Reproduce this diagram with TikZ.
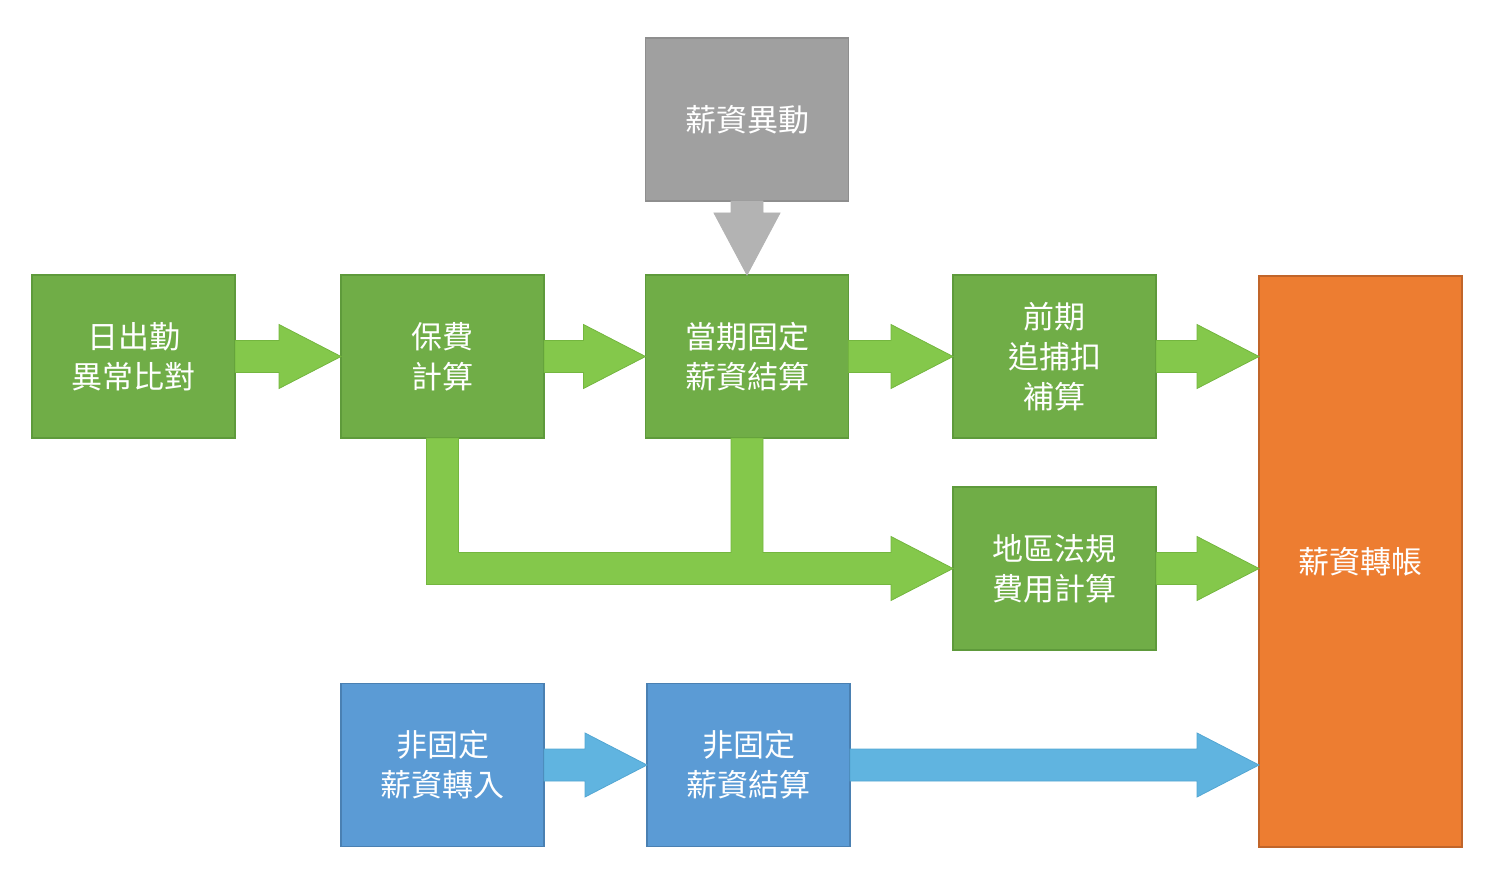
\documentclass[tikz,border=0pt]{standalone}
\usepackage{fontspec}
\setmainfont{Noto Sans CJK TC}
\usetikzlibrary{calc}
\definecolor{boxgreen}{HTML}{70AD47}
\definecolor{linegreen}{HTML}{5E9A3B}
\definecolor{arrgreen}{HTML}{84C84B}
\definecolor{arrgreenline}{HTML}{74B63F}
\definecolor{boxgray}{HTML}{A0A0A0}
\definecolor{linegray}{HTML}{8E8E8E}
\definecolor{arrgray}{HTML}{B3B3B3}
\definecolor{boxorange}{HTML}{ED7D31}
\definecolor{lineorange}{HTML}{C1652A}
\definecolor{boxblue}{HTML}{5B9BD5}
\definecolor{lineblue}{HTML}{4A80B2}
\definecolor{arrblue}{HTML}{60B4E0}
\definecolor{arrblueline}{HTML}{53A6D2}

% block arrow, left to right
\newcommand{\harrow}[3]{%
	\filldraw[#3] let \p1=(#1), \p2=(#2) in
		(\x1,\y1+8pt) -- (\x2-31pt,\y1+8pt) -- (\x2-31pt,\y1+16pt) -- (\x2,\y1)
		-- (\x2-31pt,\y1-16pt) -- (\x2-31pt,\y1-8pt) -- (\x1,\y1-8pt) -- cycle;}
% block arrow, top to bottom
\newcommand{\varrow}[3]{%
	\filldraw[#3] let \p1=(#1), \p2=(#2) in
		(\x1-8pt,\y1) -- (\x1-8pt,\y2+31pt) -- (\x1-16.5pt,\y2+31pt) -- (\x1,\y2)
		-- (\x1+16.5pt,\y2+31pt) -- (\x1+8pt,\y2+31pt) -- (\x1+8pt,\y1) -- cycle;}

\begin{document}
\begin{tikzpicture}[x=0.5pt,y=-0.5pt,line width=0.6pt,
	box/.style={rectangle,draw,text=white,align=center,outer sep=0pt,
		minimum width=101.5pt,minimum height=81.5pt,
		font=\fontsize{15.5pt}{20pt}\selectfont},
	green box/.style={box,fill=boxgreen,draw=linegreen},
	gray box/.style={box,fill=boxgray,draw=linegray},
	blue box/.style={box,fill=boxblue,draw=lineblue},
	orange box/.style={box,fill=boxorange,draw=lineorange,minimum height=285.5pt},
	garrow/.style={fill=arrgreen,draw=arrgreenline,line width=0.4pt},
	barrow/.style={fill=arrblue,draw=arrblueline,line width=0.4pt},
	grarrow/.style={fill=arrgray,draw=arrgray,line width=0.4pt}]
	\useasboundingbox (0,0) rectangle (1496,888);

	\node[green box] at (133.5,356.5) (att) {日出勤\\異常比對};
	\node[green box] at (442.5,356.5) (ins) {保費\\計算};
	\node[green box] at (747,356.5) (cur) {當期固定\\薪資結算};
	\node[gray box] at (747,119.5) (chg) {薪資異動};
	\node[green box] at (1054.5,356.5) (pre) {前期\\追捕扣\\補算};
	\node[green box] at (1054.5,568.5) (reg) {地區法規\\費用計算};
	\node[blue box] at (442.5,765) (nfin) {非固定\\薪資轉入};
	\node[blue box] at (748.5,765) (nfset) {非固定\\薪資結算};
	\node[orange box] at (1360.5,561.5) (pay) {薪資轉帳};

	\foreach \a/\b in {att/ins,ins/cur,cur/pre}{
		\harrow{\a.east}{\b.west}{garrow}
	}
	\harrow{pre.east}{pay.west |- pre.east}{garrow}
	\harrow{reg.east}{pay.west |- reg.east}{garrow}
	\varrow{chg.south}{cur.north}{grarrow}
	\harrow{nfin.east}{nfset.west}{barrow}
	\harrow{nfset.east}{pay.west |- nfset.east}{barrow}

	% two branches joined into one arrow
	\filldraw[garrow] let \p1=(ins.south), \p2=(cur.south), \p3=(reg.west) in
		(\x1-8pt,\y1) -- (\x1+8pt,\y1) -- (\x1+8pt,\y3+8pt) -- (\x2-8pt,\y3+8pt)
		-- (\x2-8pt,\y2) -- (\x2+8pt,\y2) -- (\x2+8pt,\y3+8pt) -- (\x3-31pt,\y3+8pt)
		-- (\x3-31pt,\y3+16pt) -- (\x3,\y3) -- (\x3-31pt,\y3-16pt) -- (\x3-31pt,\y3-8pt)
		-- (\x1-8pt,\y3-8pt) -- cycle;

\end{tikzpicture}
\end{document}
